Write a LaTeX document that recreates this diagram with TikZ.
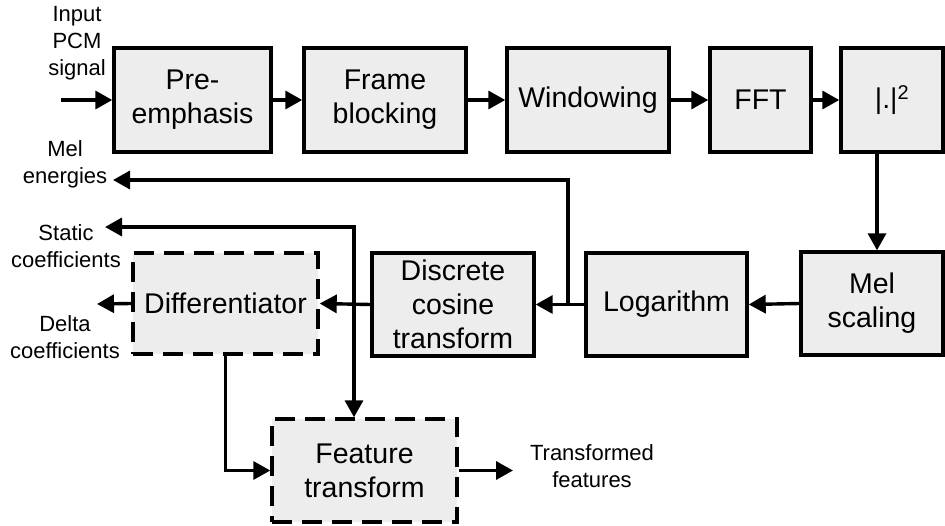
\documentclass[tikz,border=0pt]{standalone}
\usepackage{fontspec}
\setmainfont{Liberation Sans}
\usetikzlibrary{arrows.meta}
\definecolor{boxgray}{HTML}{EDEDED}
\begin{document}
\begin{tikzpicture}[x=1pt,y=-1pt,
  box/.style={draw, line width=3.4pt, fill=boxgray, align=center, inner sep=2pt,
    font=\fontsize{28.5}{34}\selectfont},
  dbox/.style={box, dash pattern=on 20pt off 10pt},
  lbl/.style={align=center, inner sep=0pt, font=\fontsize{22}{27}\selectfont},
  arr/.style={line width=3.4pt, -{Triangle[length=17pt,width=18pt]}},
  darr/.style={line width=3.4pt, {Triangle[length=17pt,width=18pt]}-{Triangle[length=17pt,width=18pt]}}]
\useasboundingbox (0,0) rectangle (945,525);

% processing chain, top row
\node[box, minimum width=157pt, minimum height=104pt] (pre)   at (192.5,100) {Pre-\\emphasis};
\node[box, minimum width=162pt, minimum height=104pt] (frame) at (385,100)   {Frame\\blocking};
\node[box, minimum width=162pt, minimum height=104pt] (win)   at (588,100)   {Windowing};
\node[box, minimum width=101pt, minimum height=104pt] (fft)   at (760.5,100) {FFT};
\node[box, minimum width=102pt, minimum height=104pt] (abs)   at (892,100)   {|.|\textsuperscript{2}};

% second row
\node[box, minimum width=142pt, minimum height=103pt] (mel) at (872,303.5)   {Mel\\scaling};
\node[box, minimum width=161pt, minimum height=103pt] (log) at (666.5,304.5) {Logarithm};
\node[box, minimum width=162pt, minimum height=103pt] (dct) at (453,304.5)   {Discrete\\cosine\\transform};
\node[dbox, minimum width=185pt, minimum height=101pt] (diff) at (225.5,303.5) {Differentiator};

% optional feature transform
\node[dbox, minimum width=185pt, minimum height=103pt] (ft) at (364.5,470.5) {Feature\\transform};

% side labels
\node[lbl] (inp)    at (77,43)   {Input\\PCM\\signal};
\node[lbl] (melE)   at (65,164)  {Mel\\energies};
\node[lbl] (stat)   at (66,246)  {Static\\coefficients};
\node[lbl] (delta)  at (65,337)  {Delta\\coefficients};
\node[lbl] (tfeat)  at (592,466) {Transformed\\features};

% free ends of connectors
\coordinate (inStart) at (61,100);
\coordinate (melTip)  at (113,180);
\coordinate (statTip) at (105,227);
\coordinate (deltaTip) at (97,304);
\coordinate (outTip)  at (513,470.5);
\coordinate (br)      at (568,304.5);

% connectors
\draw[arr] (inStart) -- (pre.west);
\draw[arr] (pre.east) -- (frame.west);
\draw[arr] (frame.east) -- (win.west);
\draw[arr] (win.east) -- (fft.west);
\draw[arr] (fft.east) -- (abs.west);
\draw[arr] ([xshift=-15pt]abs.south) -- ([xshift=-15pt]abs.south |- mel.north);
\draw[arr] (mel.west) -- (log.east);
\draw[arr] (log.west) -- (dct.east);
\draw[arr] (br) |- (melTip);
\draw[arr] (dct.west) -- (diff.east);
\draw[darr] (statTip) -| ([xshift=-10.5pt]ft.north);
\draw[arr] (diff.west) -- (deltaTip);
\draw[arr] (diff.south) |- (ft.west);
\draw[arr] (ft.east) -- (outTip);
\end{tikzpicture}
\end{document}
